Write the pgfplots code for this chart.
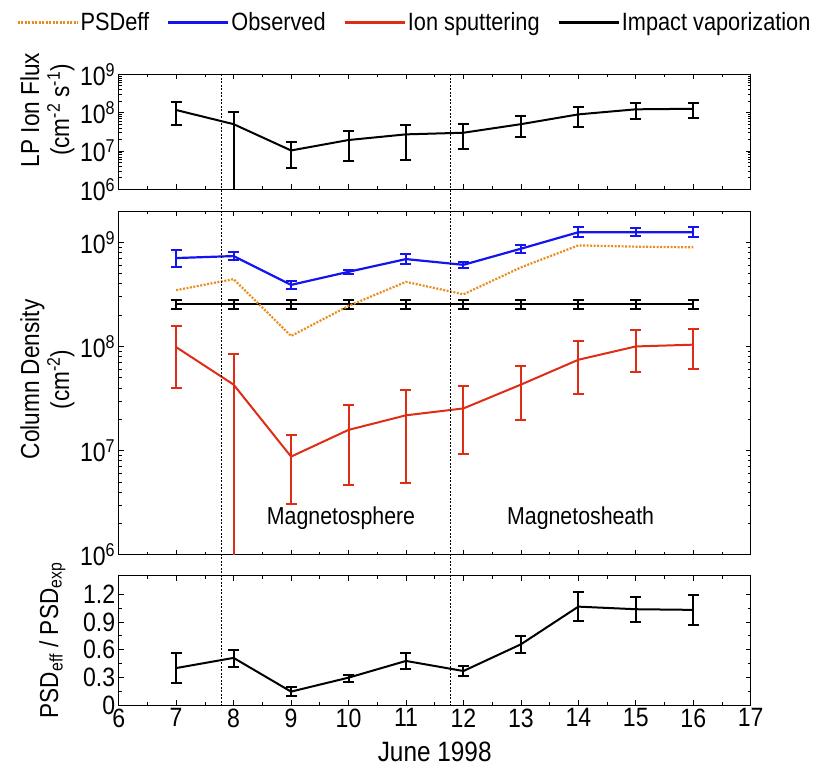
\documentclass[border=0pt]{standalone}
\usepackage{fontspec}
\setmainfont{Liberation Sans}[FakeStretch=0.87]
\usepackage{pgfplots}
\usepackage{pgfplotstable}
\pgfplotsset{compat=1.18}

\definecolor{psdorange}{RGB}{232,142,30}
\definecolor{obsblue}{RGB}{20,20,240}
\definecolor{ionred}{RGB}{222,45,20}

% LP ion flux: x, value, upper end, lower end of error bar
\pgfplotstableread{
x y hi lo
7 1.17e8 1.93e8 4.83e7
8 5.0e7 1.02e8 9e5
9 1.03e7 1.71e7 3.65e6
10 1.93e7 3.25e7 5.56e6
11 2.71e7 4.66e7 5.78e6
12 2.99e7 5.0e7 1.10e7
13 5.0e7 8.0e7 2.35e7
14 9.0e7 1.37e8 4.13e7
15 1.22e8 1.75e8 6.8e7
16 1.26e8 1.78e8 7.36e7
}\lpflux

\pgfplotstableread{
x y hi lo
7 7.06e8 8.37e8 5.74e8
8 7.38e8 8.0e8 6.8e8
9 3.9e8 4.27e8 3.55e8
10 5.21e8 5.45e8 4.98e8
11 6.9e8 7.66e8 6.22e8
12 6.08e8 6.41e8 5.65e8
13 8.68e8 9.42e8 7.89e8
14 1.25e9 1.40e9 1.13e9
15 1.25e9 1.36e9 1.14e9
16 1.25e9 1.40e9 1.13e9
}\observed

\pgfplotstableread{
x y
7 3.47e8
8 4.43e8
9 1.26e8
10 2.45e8
11 4.17e8
12 3.17e8
13 5.74e8
14 9.35e8
15 9.08e8
16 8.95e8
}\psdeff

\pgfplotstableread{
x y hi lo
7 2.54e8 2.79e8 2.29e8
8 2.54e8 2.79e8 2.29e8
9 2.54e8 2.79e8 2.29e8
10 2.54e8 2.79e8 2.29e8
11 2.54e8 2.79e8 2.29e8
12 2.54e8 2.79e8 2.29e8
13 2.54e8 2.79e8 2.29e8
14 2.54e8 2.79e8 2.29e8
15 2.54e8 2.79e8 2.29e8
16 2.54e8 2.79e8 2.29e8
}\impact

\pgfplotstableread{
x y hi lo
7 9.85e7 1.58e8 4.03e7
8 4.3e7 8.5e7 5e5
9 8.75e6 1.42e7 3.06e6
10 1.58e7 2.72e7 4.67e6
11 2.18e7 3.85e7 4.85e6
12 2.54e7 4.14e7 9.35e6
13 4.3e7 6.5e7 1.96e7
14 7.45e7 1.13e8 3.52e7
15 1.0e8 1.44e8 5.7e7
16 1.04e8 1.48e8 6.14e7
}\ionsput

\pgfplotstableread{
x y hi lo
7 0.40 0.56 0.235
8 0.51 0.60 0.415
9 0.145 0.19 0.10
10 0.296 0.33 0.25
11 0.477 0.563 0.39
12 0.368 0.42 0.31
13 0.657 0.744 0.56
14 1.065 1.224 0.907
15 1.037 1.17 0.90
16 1.03 1.195 0.87
}\ratio

\pgfplotsset{
  panel/.style={
    scale only axis, width=632pt,
    xmin=6, xmax=17, xtick={6,...,17}, minor x tick num=1,
    tick align=inside, major tick length=5pt, minor tick length=3pt,
    tick style={black, line width=0.7pt},
    axis line style={line width=0.8pt},
    xticklabel style={font=\fontsize{26.5}{26.5}\selectfont},
    yticklabel style={font=\fontsize{26.5}{26.5}\selectfont},
    label style={font=\fontsize{26}{30}\selectfont},
    /pgf/number format/assume math mode=true,
    ylabel style={at={(axis description cs:-0.113,0.5)}, anchor=center, align=center},
  },
  errs/.style={
    error bars/y dir=both, error bars/y explicit,
    error bars/error bar style={line width=2pt},
    error bars/error mark options={rotate=90, mark size=5.5pt, line width=2pt},
  },
}

\begin{document}
\begin{tikzpicture}
\useasboundingbox (-118.7pt,-71pt) rectangle (710.3pt,705pt);

% top panel
\begin{axis}[panel, at={(0,515.7pt)}, height=115pt,
  ymode=log, ymin=1e6, ymax=1e9, ytick={1e6,1e7,1e8,1e9},
  yticklabels={10\textsuperscript{6},10\textsuperscript{7},10\textsuperscript{8},10\textsuperscript{9}},
  xticklabels={},
  ylabel={LP Ion Flux\\(cm\textsuperscript{-2} s\textsuperscript{-1})},
  ylabel style={at={(axis description cs:-0.113,0.69)}},
  legend columns=4,
  legend style={at={(axis description cs:0.468,1.45)}, anchor=center, draw=none,
    font=\fontsize{25}{25}\selectfont,
    /tikz/every even column/.append style={column sep=16pt}},
  legend image code/.code={\draw[#1] (0pt,0pt) -- (60pt,0pt);},
]
\addlegendimage{psdorange, line width=2.2pt, dash pattern=on 2pt off 1.5pt}
\addlegendentry{PSDeff}
\addlegendimage{obsblue, line width=2.2pt}
\addlegendentry{Observed}
\addlegendimage{ionred, line width=2.2pt}
\addlegendentry{Ion sputtering}
\addlegendimage{black, line width=2.2pt}
\addlegendentry{Impact vaporization}
\addplot[black, line width=2pt, errs, forget plot] table[x=x, y=y,
  y error plus expr=\thisrow{hi}-\thisrow{y}, y error minus expr=\thisrow{y}-\thisrow{lo}] {\lpflux};
\coordinate (t1) at (axis cs:7.78,1e9);
\coordinate (t2) at (axis cs:11.77,1e9);
\end{axis}

% middle panel
\begin{axis}[panel, at={(0,150.3pt)}, height=343.7pt,
  ymode=log, ymin=1e6, ymax=2e9, ytick={1e6,1e7,1e8,1e9},
  yticklabels={10\textsuperscript{6},10\textsuperscript{7},10\textsuperscript{8},10\textsuperscript{9}},
  xticklabels={},
  ylabel={Column Density\\(cm\textsuperscript{-2})},
  ylabel style={at={(axis description cs:-0.113,0.51)}},
]
\addplot[black, line width=2pt, errs] table[x=x, y=y,
  y error plus expr=\thisrow{hi}-\thisrow{y}, y error minus expr=\thisrow{y}-\thisrow{lo}] {\impact};
\addplot[ionred, line width=2pt, errs] table[x=x, y=y,
  y error plus expr=\thisrow{hi}-\thisrow{y}, y error minus expr=\thisrow{y}-\thisrow{lo}] {\ionsput};
\addplot[psdorange, line width=2.2pt, dash pattern=on 2pt off 1.5pt] table[x=x, y=y] {\psdeff};
\addplot[obsblue, line width=2.2pt, errs] table[x=x, y=y,
  y error plus expr=\thisrow{hi}-\thisrow{y}, y error minus expr=\thisrow{y}-\thisrow{lo}] {\observed};
\node[font=\fontsize{24.5}{24.5}\selectfont] at (axis cs:9.87,2.24e6) {Magnetosphere};
\node[font=\fontsize{24.5}{24.5}\selectfont] at (axis cs:14.04,2.24e6) {Magnetosheath};
\end{axis}

% bottom panel
\begin{axis}[panel, at={(0,0)}, height=129.3pt,
  ymin=0, ymax=1.4, ytick={0,0.3,0.6,0.9,1.2}, yticklabels={0,0.3,0.6,0.9,1.2},
  minor y tick num=1,
  xlabel={June 1998},
  xlabel style={at={(axis description cs:0.5,-0.365)}, anchor=center, font=\fontsize{28}{28}\selectfont},
  ylabel={PSD\textsubscript{eff} / PSD\textsubscript{exp}},
  ylabel style={at={(axis description cs:-0.105,0.5)}},
]
\addplot[black, line width=2pt, errs] table[x=x, y=y,
  y error plus expr=\thisrow{hi}-\thisrow{y}, y error minus expr=\thisrow{y}-\thisrow{lo}] {\ratio};
\coordinate (b1) at (axis cs:7.78,0);
\coordinate (b2) at (axis cs:11.77,0);
\end{axis}

\draw[black, line width=0.7pt, dash pattern=on 2pt off 1.5pt] (t1) -- (b1);
\draw[black, line width=0.7pt, dash pattern=on 2pt off 1.5pt] (t2) -- (b2);
\end{tikzpicture}
\end{document}
